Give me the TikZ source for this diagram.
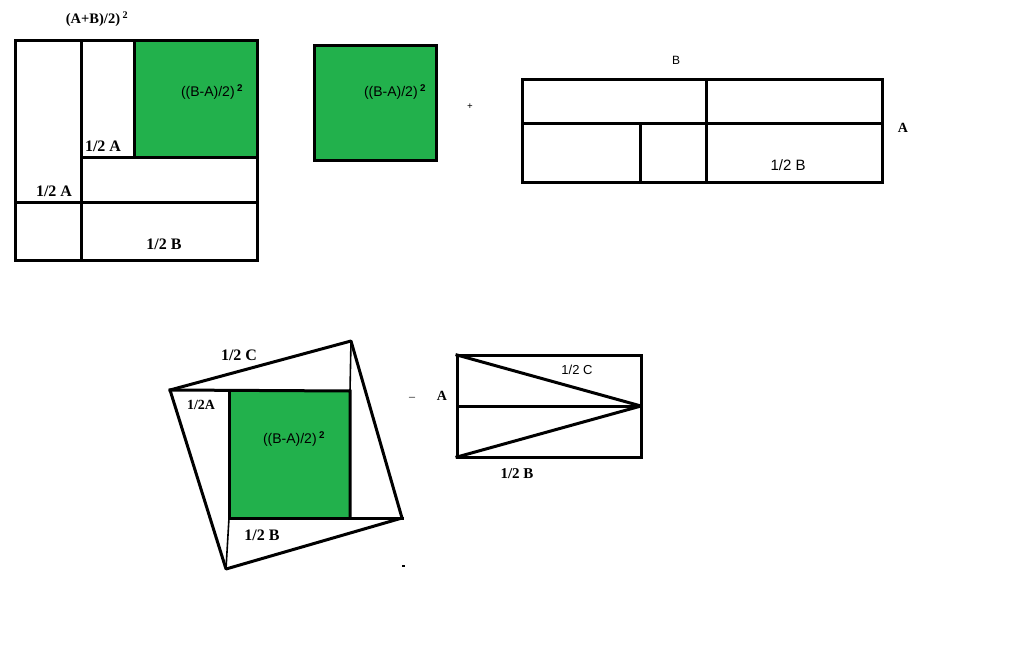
\documentclass[tikz,border=0pt]{standalone}
\usepackage{fontspec}
\setmainfont{Liberation Serif}
\setsansfont{Liberation Sans}
\definecolor{paintgreen}{RGB}{34,177,76}
\tikzset{
	edge/.style={line width=3pt, line cap=rect},
	thinedge/.style={line width=1.6pt},
	lab/.style={font=\fontsize{16}{18}\selectfont\bfseries, inner sep=0pt},
	slab/.style={font=\fontsize{14}{16}\selectfont\sffamily, inner sep=0pt},
	small/.style={font=\fontsize{12}{14}\selectfont\sffamily, inner sep=0pt}
}
\begin{document}
\begin{tikzpicture}[x=1pt,y=-1pt]
	\useasboundingbox[fill=white] (0,0) rectangle (1024,647);
	% top left square
	\fill[paintgreen] (134,41) rectangle (257,158);
	\coordinate (P1) at ( 15, 41);
	\coordinate (P2) at (257, 41);
	\coordinate (P3) at (257,260);
	\coordinate (P4) at ( 15,260);
	\draw[edge] (P1) -- (P2) -- (P3) -- (P4) -- cycle;
	\draw[edge] (81,41) -- (81,260);
	\draw[edge] (134,41) -- (134,158);
	\draw[edge] (81,158) -- (257,158);
	\draw[edge] (15,202) -- (257,202);
	\node (sum)  at ( 97, 19)	[lab, font=\fontsize{14.5}{16}\selectfont\bfseries]	{(A+B)/2)\,\textsuperscript{2}};
	\node (diff1) at (212, 92)	[slab]	{((B-A)/2)\,\textsuperscript{\bfseries 2}};
	\node (ha1)  at (103,146)	[lab]	{1/2 A};
	\node (ha2)  at ( 54,191)	[lab]	{1/2 A};
	\node (hb1)  at (164,244)	[lab]	{1/2 B};
	% green square
	\fill[paintgreen] (314,46) rectangle (436,161);
	\draw[edge] (314,46) rectangle (436,161);
	\node (diff2) at (395, 92)	[slab]	{((B-A)/2)\,\textsuperscript{\bfseries 2}};
	\node (plus) at (470,107)	[font=\fontsize{10}{10}\selectfont\bfseries, inner sep=0pt]	{+};
	% B by A rectangle
	\coordinate (R1) at (522, 80);
	\coordinate (R2) at (882, 80);
	\coordinate (R3) at (882,182);
	\coordinate (R4) at (522,182);
	\draw[edge] (R1) -- (R2) -- (R3) -- (R4) -- cycle;
	\draw[edge] (522,124) -- (882,124);
	\draw[edge] (706,80) -- (706,182);
	\draw[edge] (640,124) -- (640,182);
	\node (lb)  at (676, 60)	[small]	{B};
	\node (la)  at (903,128)	[lab, font=\fontsize{14}{16}\selectfont\bfseries]	{A};
	\node (hb2) at (788,165)	[slab, font=\fontsize{15}{17}\selectfont\sffamily]	{1/2 B};
	% tilted square
	\coordinate (T1) at (170,390);
	\coordinate (T2) at (351,341);
	\coordinate (T3) at (402,518);
	\coordinate (T4) at (226,569);
	\fill[paintgreen] (229,391) rectangle (350,518);
	\draw[edge, line join=round] (T1) -- (T2) -- (T3) -- (T4) -- cycle;
	\draw[edge] (T1) -- (350,391) -- (350,518);
	\draw[edge] (229,391) -- (229,518) -- (T3);
	\draw[thinedge] (T2) -- (350,391);
	\draw[thinedge] (229,518) -- (T4);
	\node (hc1)  at (239,355)	[lab]	{1/2 C};
	\node (ha3)  at (201,405)	[lab, font=\fontsize{14}{16}\selectfont\bfseries]	{1/2A};
	\node (diff3) at (294,439)	[slab]	{((B-A)/2)\,\textsuperscript{\bfseries 2}};
	\node (hb3)  at (262,535)	[lab]	{1/2 B};
	\node (minus) at (412,399)	[font=\fontsize{12}{12}\selectfont, inner sep=0pt]	{--};
	\fill (402,565) rectangle (405,567);
	% triangles rectangle
	\coordinate (S1) at (457,355);
	\coordinate (S2) at (641,355);
	\coordinate (S3) at (641,457);
	\coordinate (S4) at (457,457);
	\coordinate (SM) at (641,406);
	\draw[edge] (S1) -- (S2) -- (S3) -- (S4) -- cycle;
	\draw[edge] (457,406) -- (SM);
	\draw[edge, line join=round] (S1) -- (SM) -- (S4);
	\node (hc2) at (577,370)	[small, font=\fontsize{13}{15}\selectfont\sffamily]	{1/2 C};
	\node (la2) at (442,396)	[lab, font=\fontsize{14}{16}\selectfont\bfseries]	{A};
	\node (hb4) at (517,474)	[lab, font=\fontsize{15}{17}\selectfont\bfseries]	{1/2 B};
\end{tikzpicture}
\end{document}
